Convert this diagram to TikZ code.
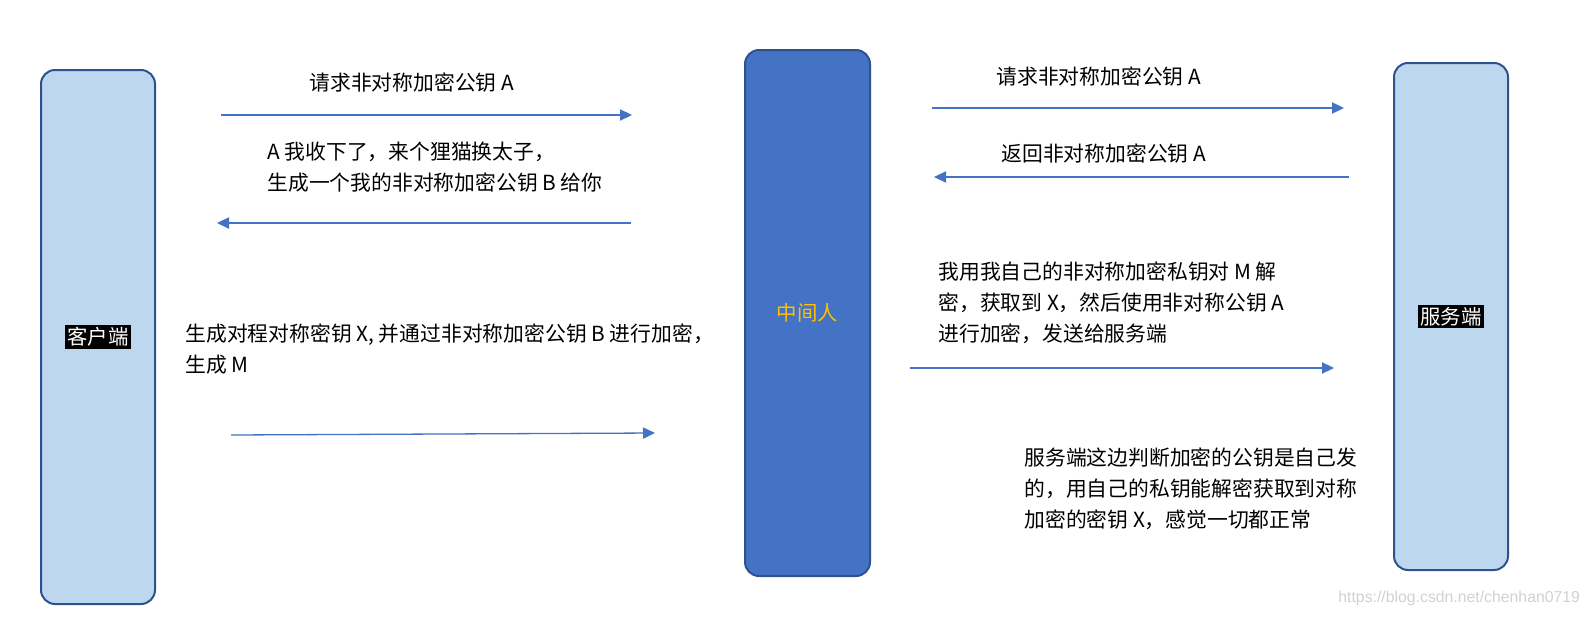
\documentclass[tikz,border=0pt]{standalone}
\usepackage{fontspec}
\setmainfont{Noto Sans CJK SC}
\newfontfamily\markfont{Liberation Sans}
\usetikzlibrary{arrows.meta, positioning}
\definecolor{boxfill}{RGB}{189, 215, 238}
\definecolor{boxline}{RGB}{47, 82, 143}
\definecolor{midblue}{RGB}{68, 114, 196}
\definecolor{goldtext}{RGB}{255, 192, 0}

\begin{document}
\begin{tikzpicture}[x=0.5pt, y=-0.5pt,
    party/.style={draw=boxline, line width=1pt, rounded corners=7pt, fill=boxfill},
    msg/.style={inner sep=0pt, anchor=west, align=left, font=\fontsize{10.4}{15.5}\selectfont},
    flow/.style={draw=midblue, line width=0.65pt, -{Triangle[length=6pt, width=5.6pt]}}]
    \useasboundingbox (0,0) rectangle (1590,621);

    % Parties
    \node[party, minimum width=57pt, minimum height=267pt] (client) at (98,337) {};
    \node[party, fill=midblue, minimum width=62.5pt, minimum height=263pt] (mitm) at (807.5,313) {};
    \node[party, minimum width=57pt, minimum height=253.5pt] (server) at (1451,316.5) {};

    \node[fill=black, text=white, inner sep=1pt, font=\fontsize{10.2}{12}\selectfont] at (client) {客户端};
    \node[text=goldtext, font=\fontsize{10.2}{12}\selectfont] at (mitm) {中间人};
    \node[fill=black, text=white, inner sep=1pt, font=\fontsize{10.2}{12}\selectfont] at (server) {服务端};

    % Client side messages
    \node[msg] (m1) at (309,83) {请求非对称加密公钥 A};
    \node[msg] (m2) at (267,167.5) {A 我收下了，来个狸猫换太子，\\生成一个我的非对称加密公钥 B 给你};
    \node[msg] (m3) at (185,349.5) {生成对程对称密钥 X, 并通过非对称加密公钥 B 进行加密，\\生成 M};

    % Server side messages
    \node[msg] (m4) at (996,77) {请求非对称加密公钥 A};
    \node[msg] (m5) at (1001,154) {返回非对称加密公钥 A};
    \node[msg] (m6) at (938,302.5) {我用我自己的非对称加密私钥对 M 解\\密，获取到 X，然后使用非对称公钥 A\\进行加密，发送给服务端};
    \node[msg] (m7) at (1024,488.5) {服务端这边判断加密的公钥是自己发\\的，用自己的私钥能解密获取到对称\\加密的密钥 X，感觉一切都正常};

    % Arrow ends
    \coordinate (a1s) at (221,115);  \coordinate (a1e) at (632,115);
    \coordinate (a2s) at (631,223);  \coordinate (a2e) at (217,223);
    \coordinate (a3s) at (231,435);  \coordinate (a3e) at (655,433);
    \coordinate (a4s) at (932,108);  \coordinate (a4e) at (1344,108);
    \coordinate (a5s) at (1349,177); \coordinate (a5e) at (934,177);
    \coordinate (a6s) at (910,368);  \coordinate (a6e) at (1334,368);

    \foreach \s/\e in {a1s/a1e, a2s/a2e, a3s/a3e, a4s/a4e, a5s/a5e, a6s/a6e} {
        \draw[flow] (\s) -- (\e);
    }

    \node[inner sep=0pt, anchor=west, text=black!18, font=\markfont\fontsize{7.9}{10}\selectfont] (mark) at (1338,598) {https://blog.csdn.net/chenhan0719};
\end{tikzpicture}
\end{document}
